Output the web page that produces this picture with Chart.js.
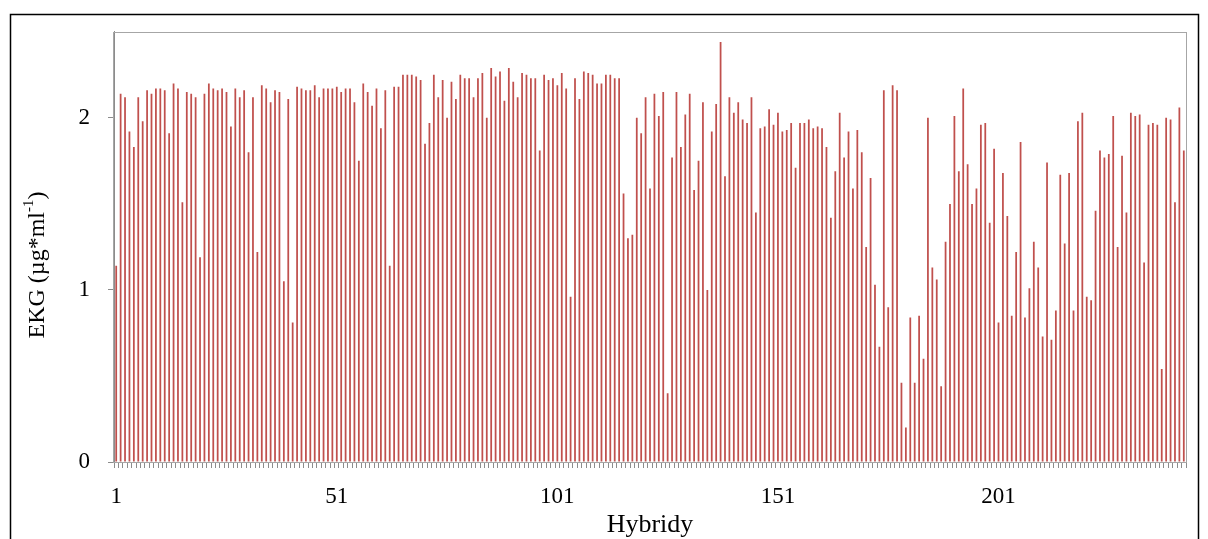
<!DOCTYPE html>
<html>
<head>
<meta charset="utf-8">
<script src="https://cdn.jsdelivr.net/npm/chart.js@4"></script>
<style>
  body { margin: 0; background: #fff; }
  canvas { display: block; }
</style>
</head>
<body>
<canvas id="ekgChart" width="1208" height="539"></canvas>
<script>
  // EKG values per hybrid
  let ekgValues = [
    1.14, 2.14, 2.12, 1.92, 1.83, 2.12, 1.98, 2.16, 2.14, 2.17,
    2.17, 2.16, 1.91, 2.20, 2.17, 1.51, 2.15, 2.14, 2.12, 1.19,
    2.14, 2.20, 2.17, 2.16, 2.17, 2.15, 1.95, 2.17, 2.12, 2.16,
    1.80, 2.12, 1.22, 2.19, 2.17, 2.09, 2.16, 2.15, 1.05, 2.11,
    0.81, 2.18, 2.17, 2.16, 2.16, 2.19, 2.12, 2.17, 2.17, 2.17,
    2.18, 2.15, 2.17, 2.17, 2.09, 1.75, 2.20, 2.15, 2.07, 2.17,
    1.94, 2.16, 1.14, 2.18, 2.18, 2.25, 2.25, 2.25, 2.24, 2.22,
    1.85, 1.97, 2.25, 2.12, 2.22, 2.00, 2.21, 2.11, 2.25, 2.23,
    2.23, 2.12, 2.23, 2.26, 2.00, 2.29, 2.24, 2.27, 2.10, 2.29,
    2.21, 2.12, 2.26, 2.25, 2.23, 2.23, 1.81, 2.25, 2.22, 2.23,
    2.19, 2.26, 2.17, 0.96, 2.23, 2.11, 2.27, 2.26, 2.25, 2.20,
    2.20, 2.25, 2.25, 2.23, 2.23, 1.56, 1.30, 1.32, 2.00, 1.91,
    2.12, 1.59, 2.14, 2.01, 2.15, 0.40, 1.77, 2.15, 1.83, 2.02,
    2.14, 1.58, 1.75, 2.09, 1.00, 1.92, 2.08, 2.44, 1.66, 2.12,
    2.03, 2.09, 1.99, 1.97, 2.12, 1.45, 1.94, 1.95, 2.05, 1.96,
    2.03, 1.92, 1.93, 1.97, 1.71, 1.97, 1.97, 1.99, 1.94, 1.95,
    1.94, 1.83, 1.42, 1.69, 2.03, 1.77, 1.92, 1.59, 1.93, 1.80,
    1.25, 1.65, 1.03, 0.67, 2.16, 0.90, 2.19, 2.16, 0.46, 0.20,
    0.84, 0.46, 0.85, 0.60, 2.00, 1.13, 1.06, 0.44, 1.28, 1.50,
    2.01, 1.69, 2.17, 1.73, 1.50, 1.59, 1.96, 1.97, 1.39, 1.82,
    0.81, 1.68, 1.43, 0.85, 1.22, 1.86, 0.84, 1.01, 1.28, 1.13,
    0.73, 1.74, 0.71, 0.88, 1.67, 1.27, 1.68, 0.88, 1.98, 2.03,
    0.96, 0.94, 1.46, 1.81, 1.77, 1.79, 2.01, 1.25, 1.78, 1.45,
    2.03, 2.01, 2.02, 1.16, 1.96, 1.97, 1.96, 0.54, 2.00, 1.99,
    1.51, 2.06, 1.81
  ];

  // hybrid numbers 1..n, only every 50th gets printed
  let hybrids = ekgValues.map((v, i) => String(i + 1));
  let yTicks = [0, 1, 2];

  const serif = '"Liberation Serif", "DejaVu Serif", serif';

  // frame round the whole chart + box round the plot area + y title with superscript
  const frames = {
    id: 'frames',
    beforeDraw(chart) {
      const c = chart.ctx;
      c.save();
      c.fillStyle = '#fff';
      c.fillRect(0, 0, chart.width, chart.height);
      c.strokeStyle = '#000';
      c.lineWidth = 1.5;
      c.strokeRect(10.5, 14.5, 1188, 540);
      c.restore();
    },
    afterDraw(chart) {
      const a = chart.chartArea;
      const c = chart.ctx;
      c.save();
      c.strokeStyle = '#a6a6a6';
      c.lineWidth = 1;
      c.strokeRect(Math.round(a.left) - 0.5, Math.round(a.top) + 0.5,
                   Math.round(a.right - a.left) + 1, Math.round(a.bottom - a.top));

      // y axis title, rotated
      const parts = [
        { t: 'EKG (µg*ml', size: 24, rise: 0 },
        { t: '-1', size: 15, rise: 9 },
        { t: ')', size: 24, rise: 0 }
      ];
      let total = 0;
      parts.forEach(p => {
        c.font = p.size + 'px ' + serif;
        p.w = c.measureText(p.t).width;
        total += p.w;
      });
      c.translate(38, 265);
      c.rotate(-Math.PI / 2);
      c.fillStyle = '#000';
      c.textBaseline = 'middle';
      let x = -total / 2;
      parts.forEach(p => {
        c.font = p.size + 'px ' + serif;
        c.fillText(p.t, x, -p.rise + (p.rise ? 0 : 0));
        x += p.w;
      });
      c.restore();
    }
  };

  let ctx = document.getElementById('ekgChart').getContext('2d');

  let ekgChart = new Chart(ctx, {
    type: 'bar',
    data: {
      labels: hybrids,
      datasets: [{
        data: ekgValues,
        backgroundColor: '#c0504d',
        borderWidth: 0,
        barPercentage: 0.4,
        categoryPercentage: 1
      }]
    },
    options: {
      responsive: false,
      animation: false,
      layout: { padding: { top: 31, right: 22, left: 0, bottom: 0 } },
      plugins: {
        legend: { display: false },
        tooltip: { enabled: false }
      },
      scales: {
        x: {
          grid: {
            offset: true,
            drawOnChartArea: false,
            tickLength: 6,
            color: '#8c8c8c'
          },
          border: { color: '#8c8c8c' },
          ticks: {
            autoSkip: false,
            maxRotation: 0,
            color: '#000',
            padding: 15,
            font: { family: serif, size: 23 },
            callback: (v, i) => (i % 50 === 0 ? hybrids[i] : '')
          },
          title: {
            display: true,
            text: 'Hybridy',
            color: '#000',
            padding: { top: 0, bottom: -2 },
            font: { family: serif, size: 26 }
          },
          afterFit: s => { s.height = 539 - 462; }
        },
        y: {
          min: 0,
          max: 2.5,
          afterBuildTicks: s => { s.ticks = yTicks.map(v => ({ value: v })); },
          grid: {
            drawOnChartArea: false,
            tickLength: 6,
            color: '#8c8c8c'
          },
          border: { color: '#8c8c8c' },
          ticks: {
            color: '#000',
            padding: 18,
            font: { family: serif, size: 23 }
          },
          afterFit: s => { s.width = 114; }
        }
      }
    },
    plugins: [frames]
  });
</script>
</body>
</html>
